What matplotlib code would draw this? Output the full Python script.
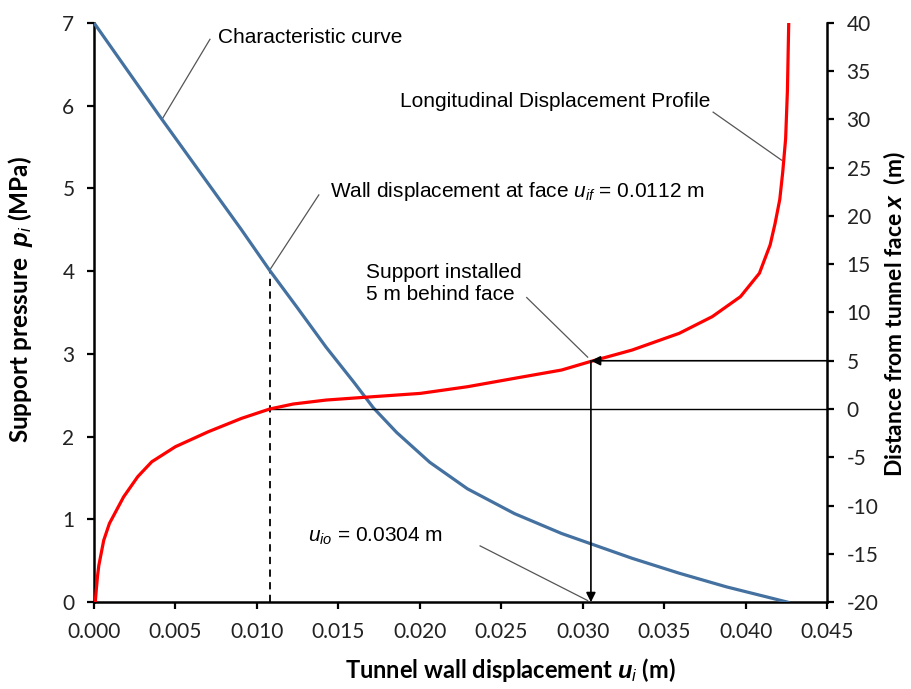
import numpy as np
import matplotlib
matplotlib.use("Agg")
import matplotlib.pyplot as plt

plt.rcParams["axes.unicode_minus"] = False
plt.rcParams["mathtext.fontset"] = "custom"
plt.rcParams["mathtext.rm"] = "Liberation Sans"
plt.rcParams["mathtext.it"] = "Liberation Sans:italic"
plt.rcParams["mathtext.bf"] = "Liberation Sans:bold"
plt.rcParams["mathtext.bfit"] = "Liberation Sans:bold:italic"

#===============================================================================
# DATA
#===============================================================================

# characteristic curve: support pressure (MPa) vs tunnel wall displacement (m)
cc_u = [0.0, 0.004, 0.00905, 0.01078, 0.01251, 0.01425, 0.01598, 0.01714,
        0.01858, 0.02061, 0.02292, 0.02581, 0.0287, 0.03043, 0.03303,
        0.03592, 0.03882, 0.04258]
cc_p = [7.0, 5.88, 4.50, 4.01, 3.55, 3.08, 2.65, 2.35,
        2.05, 1.69, 1.37, 1.07, 0.83, 0.71, 0.53,
        0.35, 0.185, 0.0]

# longitudinal displacement profile: distance from face (m) vs displacement (m)
ldp_u = [0.00008, 0.00015, 0.00022, 0.0003, 0.0006, 0.00095, 0.00182,
         0.00269, 0.00355, 0.005, 0.00702, 0.00905, 0.01078, 0.01223,
         0.01425, 0.01656, 0.02003, 0.02292, 0.02581, 0.0287, 0.03043,
         0.03303, 0.03592, 0.03795, 0.03968, 0.04084, 0.0415, 0.0418,
         0.04209, 0.04227, 0.04245, 0.04256, 0.04264]
ldp_x = [-20.0, -18.6, -17.3, -16.2, -13.6, -11.85, -9.1,
         -7.0, -5.46, -3.9, -2.35, -0.97, 0.0, 0.52,
         0.93, 1.21, 1.62, 2.31, 3.18, 4.04, 4.9,
         6.11, 7.84, 9.57, 11.64, 14.06, 17.0, 19.2,
         21.7, 24.5, 28.0, 33.0, 40.0]

u_face = 0.01078     # wall displacement at face
p_face = 4.01
u_support = 0.0305   # displacement where support installed
x_support = 5.0

x_ticks = [0.000, 0.005, 0.010, 0.015, 0.020, 0.025, 0.030, 0.035, 0.040, 0.045]
p_ticks = [0, 1, 2, 3, 4, 5, 6, 7]
d_ticks = [-20, -15, -10, -5, 0, 5, 10, 15, 20, 25, 30, 35, 40]

#===============================================================================
# PLOT
#===============================================================================

BLUE = "#4471A0"
RED = "#FF0000"
TICK_FONT = "Lato"
LABEL_FONT = "Lato"
NOTE_FONT = "Liberation Sans"

fig = plt.figure(figsize=(9.12, 6.89), dpi=100)
ax = fig.add_axes([0.103, 0.126, 0.804, 0.841])
ax2 = ax.twinx()

ax.plot(cc_u, cc_p, color=BLUE, lw=2.3, zorder=3)
ax2.plot(ldp_u, ldp_x, color=RED, lw=2.3, zorder=3)

ax.set_xlim(0, 0.045)
ax.set_ylim(0, 7)
ax2.set_ylim(-20, 40)

# dashed line at face displacement
ax.plot([u_face, u_face], [0, p_face], color="black", lw=1.3, ls=(0, (4, 3)))

# reference lines on the distance axis
ax2.plot([u_face, 0.045], [0, 0], color="black", lw=1.0, clip_on=False)
ax2.annotate("", xy=(u_support, x_support), xytext=(0.045, x_support),
             arrowprops=dict(arrowstyle="-|>", color="black", lw=1.2,
                             shrinkA=0, shrinkB=0, mutation_scale=14))
ax2.annotate("", xy=(u_support, -20), xytext=(u_support, x_support),
             arrowprops=dict(arrowstyle="-|>", color="black", lw=1.2,
                             shrinkA=0, shrinkB=0, mutation_scale=14),
             annotation_clip=False)

# callouts
note_kw = dict(fontsize=15, family=NOTE_FONT, color="black", va="center")
line_kw = dict(color="#555555", lw=0.9)

ax.plot([0.00423, 0.00712], [5.85, 6.80], **line_kw)
ax.text(0.0076, 6.82, "Characteristic curve", **note_kw)

ax.plot([u_face, 0.0138], [p_face, 4.92], **line_kw)
ax.text(0.01448, 4.96, r"Wall displacement at face $\mathit{u_{if}}$ = 0.0112 m", **note_kw)

ax.plot([0.02656, 0.0303], [3.68, 2.96], **line_kw)
ax.text(0.01669, 3.85, "Support installed\n5 m behind face", linespacing=1.25, **note_kw)

ax.plot([0.0380, 0.0422], [5.92, 5.34], **line_kw)
ax.text(0.01877, 6.05, "Longitudinal Displacement Profile", **note_kw)

ax.plot([0.0237, 0.0303], [0.68, 0.02], **line_kw)
ax.text(0.01313, 0.80, r"$\mathit{u_{io}}$ = 0.0304 m", **note_kw)

# axes styling
for a in (ax, ax2):
    a.spines["top"].set_visible(False)
    for s in ("left", "right", "bottom"):
        a.spines[s].set_linewidth(1.8)
ax.spines["right"].set_visible(False)
ax2.spines["left"].set_visible(False)
ax2.spines["bottom"].set_visible(False)

ax.set_xticks(x_ticks)
ax.set_xticklabels(["{0:.3f}".format(v) for v in x_ticks])
ax.set_yticks(p_ticks)
ax2.set_yticks(d_ticks)
ax.tick_params(axis="x", direction="out", length=5, width=1.6,
               labelsize=15, pad=9)
ax.tick_params(axis="y", direction="out", length=5, width=1.6,
               labelsize=15, pad=9)
ax2.tick_params(axis="y", direction="out", length=5, width=1.6,
                labelsize=15, pad=9)
for lab in ax.get_xticklabels() + ax.get_yticklabels() + ax2.get_yticklabels():
    lab.set_family(TICK_FONT)
    lab.set_color("#222222")

ax.set_xlabel(r"Tunnel wall displacement $\mathbfit{u}_{\mathit{i}}$ (m)",
              fontsize=17, family=LABEL_FONT, fontweight="bold")
ax.set_ylabel(r"Support pressure  $\mathbfit{p}_{\mathit{i}}$ (MPa)",
              fontsize=17.5, family=LABEL_FONT, fontweight="bold")
ax2.set_ylabel(r"Distance from tunnel face $\mathbfit{x}$  (m)",
               fontsize=16.5, family=LABEL_FONT, fontweight="bold")
ax.xaxis.set_label_coords(0.5675, -0.093)
ax.yaxis.set_label_coords(-0.08, 0.523)
ax2.yaxis.set_label_coords(1.074, 0.497)

fig.savefig("out.png", dpi=100)
plt.close()
